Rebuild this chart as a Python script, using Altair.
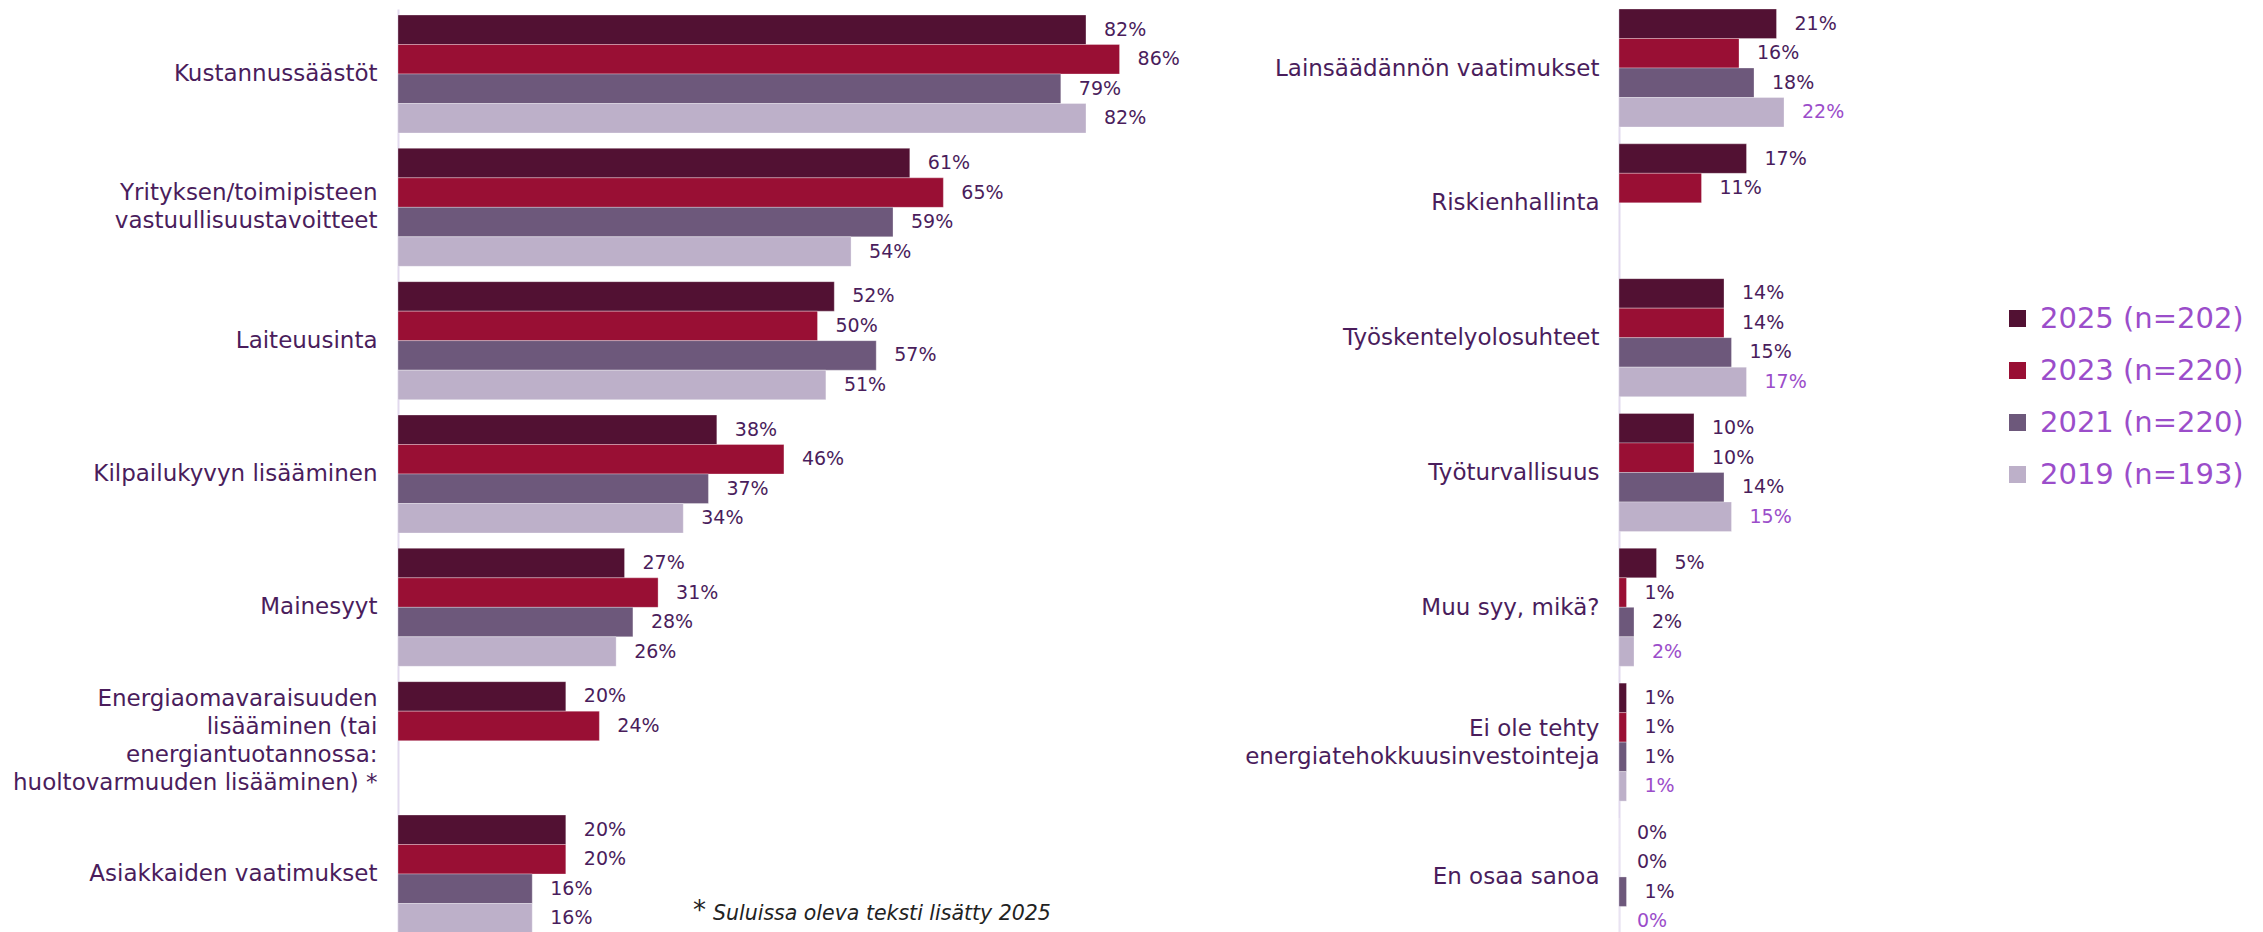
import altair as alt
import pandas as pd

years = ["2025 (n=202)", "2023 (n=220)", "2021 (n=220)", "2019 (n=193)"]
colors = ["#521133", "#990F34", "#6D587B", "#BDB0C9"]

left_cats = [
    "Kustannussäästöt",
    "Yrityksen/toimipisteen|vastuullisuustavoitteet",
    "Laiteuusinta",
    "Kilpailukyvyn lisääminen",
    "Mainesyyt",
    "Energiaomavaraisuuden|lisääminen (tai|energiantuotannossa:|huoltovarmuuden lisääminen) *",
    "Asiakkaiden vaatimukset",
]
left_2025 = [82, 61, 52, 38, 27, 20, 20]
left_2023 = [86, 65, 50, 46, 31, 24, 20]
left_2021 = [79, 59, 57, 37, 28, None, 16]
left_2019 = [82, 54, 51, 34, 26, None, 16]

right_cats = [
    "Lainsäädännön vaatimukset",
    "Riskienhallinta",
    "Työskentelyolosuhteet",
    "Työturvallisuus",
    "Muu syy, mikä?",
    "Ei ole tehty|energiatehokkuusinvestointeja",
    "En osaa sanoa",
]
right_2025 = [21, 17, 14, 10, 5, 1, 0]
right_2023 = [16, 11, 14, 10, 1, 1, 0]
right_2021 = [18, None, 15, 14, 2, 1, 1]
right_2019 = [22, None, 17, 15, 2, 1, 0]

footnote_star = "*"
footnote_text = "Suluissa oleva teksti lisätty 2025"

DARK = "#4A1D5C"
VIOLET = "#9B4DCA"
FONT = "DejaVu Sans"


def build(cats, series, violet_2019):
    rows = []
    for yr, vals in zip(years, series):
        for c, v in zip(cats, vals):
            if v is None:
                continue
            tc = VIOLET if (violet_2019 and yr == years[3]) else DARK
            rows.append({"cat": c, "year": yr, "value": v, "label": f"{v}%", "tc": tc})
    return pd.DataFrame(rows)


left_df = build(left_cats, [left_2025, left_2023, left_2021, left_2019], False)
right_df = build(right_cats, [right_2025, right_2023, right_2021, right_2019], True)

LH = 28
label_offset = {
    "condition": [
        {"test": "length(split(datum.label, '|')) == 2", "value": -LH / 2},
        {"test": "length(split(datum.label, '|')) == 4", "value": -3 * LH / 2},
    ],
    "value": 0,
}


def panel(df, cats, width, height, xmax, pi, po, extent, pad, legend, note=False):
    y = alt.Y(
        "cat:N",
        sort=cats,
        scale=alt.Scale(domain=cats, paddingInner=pi, paddingOuter=po),
        axis=alt.Axis(
            title=None,
            labelExpr="split(datum.label, '|')",
            ticks=False,
            domainColor="#E2D9EE",
            domainWidth=2,
            labelFont=FONT,
            labelFontSize=23,
            labelColor=DARK,
            labelPadding=pad,
            labelLineHeight=LH,
            labelOffset=label_offset,
            labelLimit=0,
            minExtent=extent,
            maxExtent=extent,
        ),
    )
    yo = alt.YOffset("year:N", sort=years,
                     scale=alt.Scale(domain=years, paddingInner=0, paddingOuter=0))
    x = alt.X("value:Q", scale=alt.Scale(domain=[0, xmax], nice=False, zero=True), axis=None)
    bars = alt.Chart(df).mark_bar(stroke="white", strokeWidth=0.6, strokeOpacity=0.5).encode(
        y=y, yOffset=yo, x=x,
        color=alt.Color("year:N", sort=years, scale=alt.Scale(domain=years, range=colors), legend=legend),
    )
    text = alt.Chart(df).mark_text(align="left", dx=18, font=FONT, fontSize=19).encode(
        y=y, yOffset=yo, x=x, text="label:N", color=alt.Color("tc:N", scale=None)
    )
    layers = [bars, text]
    if note:
        star = pd.DataFrame({"t": [footnote_star]})
        nd = pd.DataFrame({"t": [footnote_text]})
        layers.append(
            alt.Chart(star).mark_text(align="left", baseline="middle", font=FONT, fontSize=26,
                                      color="#222222")
            .encode(text="t:N", x=alt.value(295), y=alt.value(902))
        )
        layers.append(
            alt.Chart(nd).mark_text(align="left", baseline="middle", font=FONT, fontSize=20.5,
                                    fontStyle="italic", color="#222222")
            .encode(text="t:N", x=alt.value(315), y=alt.value(905))
        )
    return alt.layer(*layers).properties(width=width, height=height)


legend = alt.Legend(
    title=None, orient="none", legendX=1605, legendY=295,
    symbolType="square", symbolSize=289, symbolStrokeWidth=0,
    labelFont=FONT, labelFontSize=29, labelColor=VIOLET, rowPadding=22, labelOffset=8,
    labelLimit=0,
)

left = panel(left_df, left_cats, 800, 930, 800 / 8.39, 0.115, 0.045, 390, 21, legend, note=True)
right = panel(right_df, right_cats, 330, 928, 330 / 7.5, 0.117, 0.0, 421, 20, legend)

chart = alt.hconcat(left, right, spacing=0).properties(padding=0).configure_view(stroke=None)

chart.save("out.html", embed_options={"renderer": "svg", "actions": False})
